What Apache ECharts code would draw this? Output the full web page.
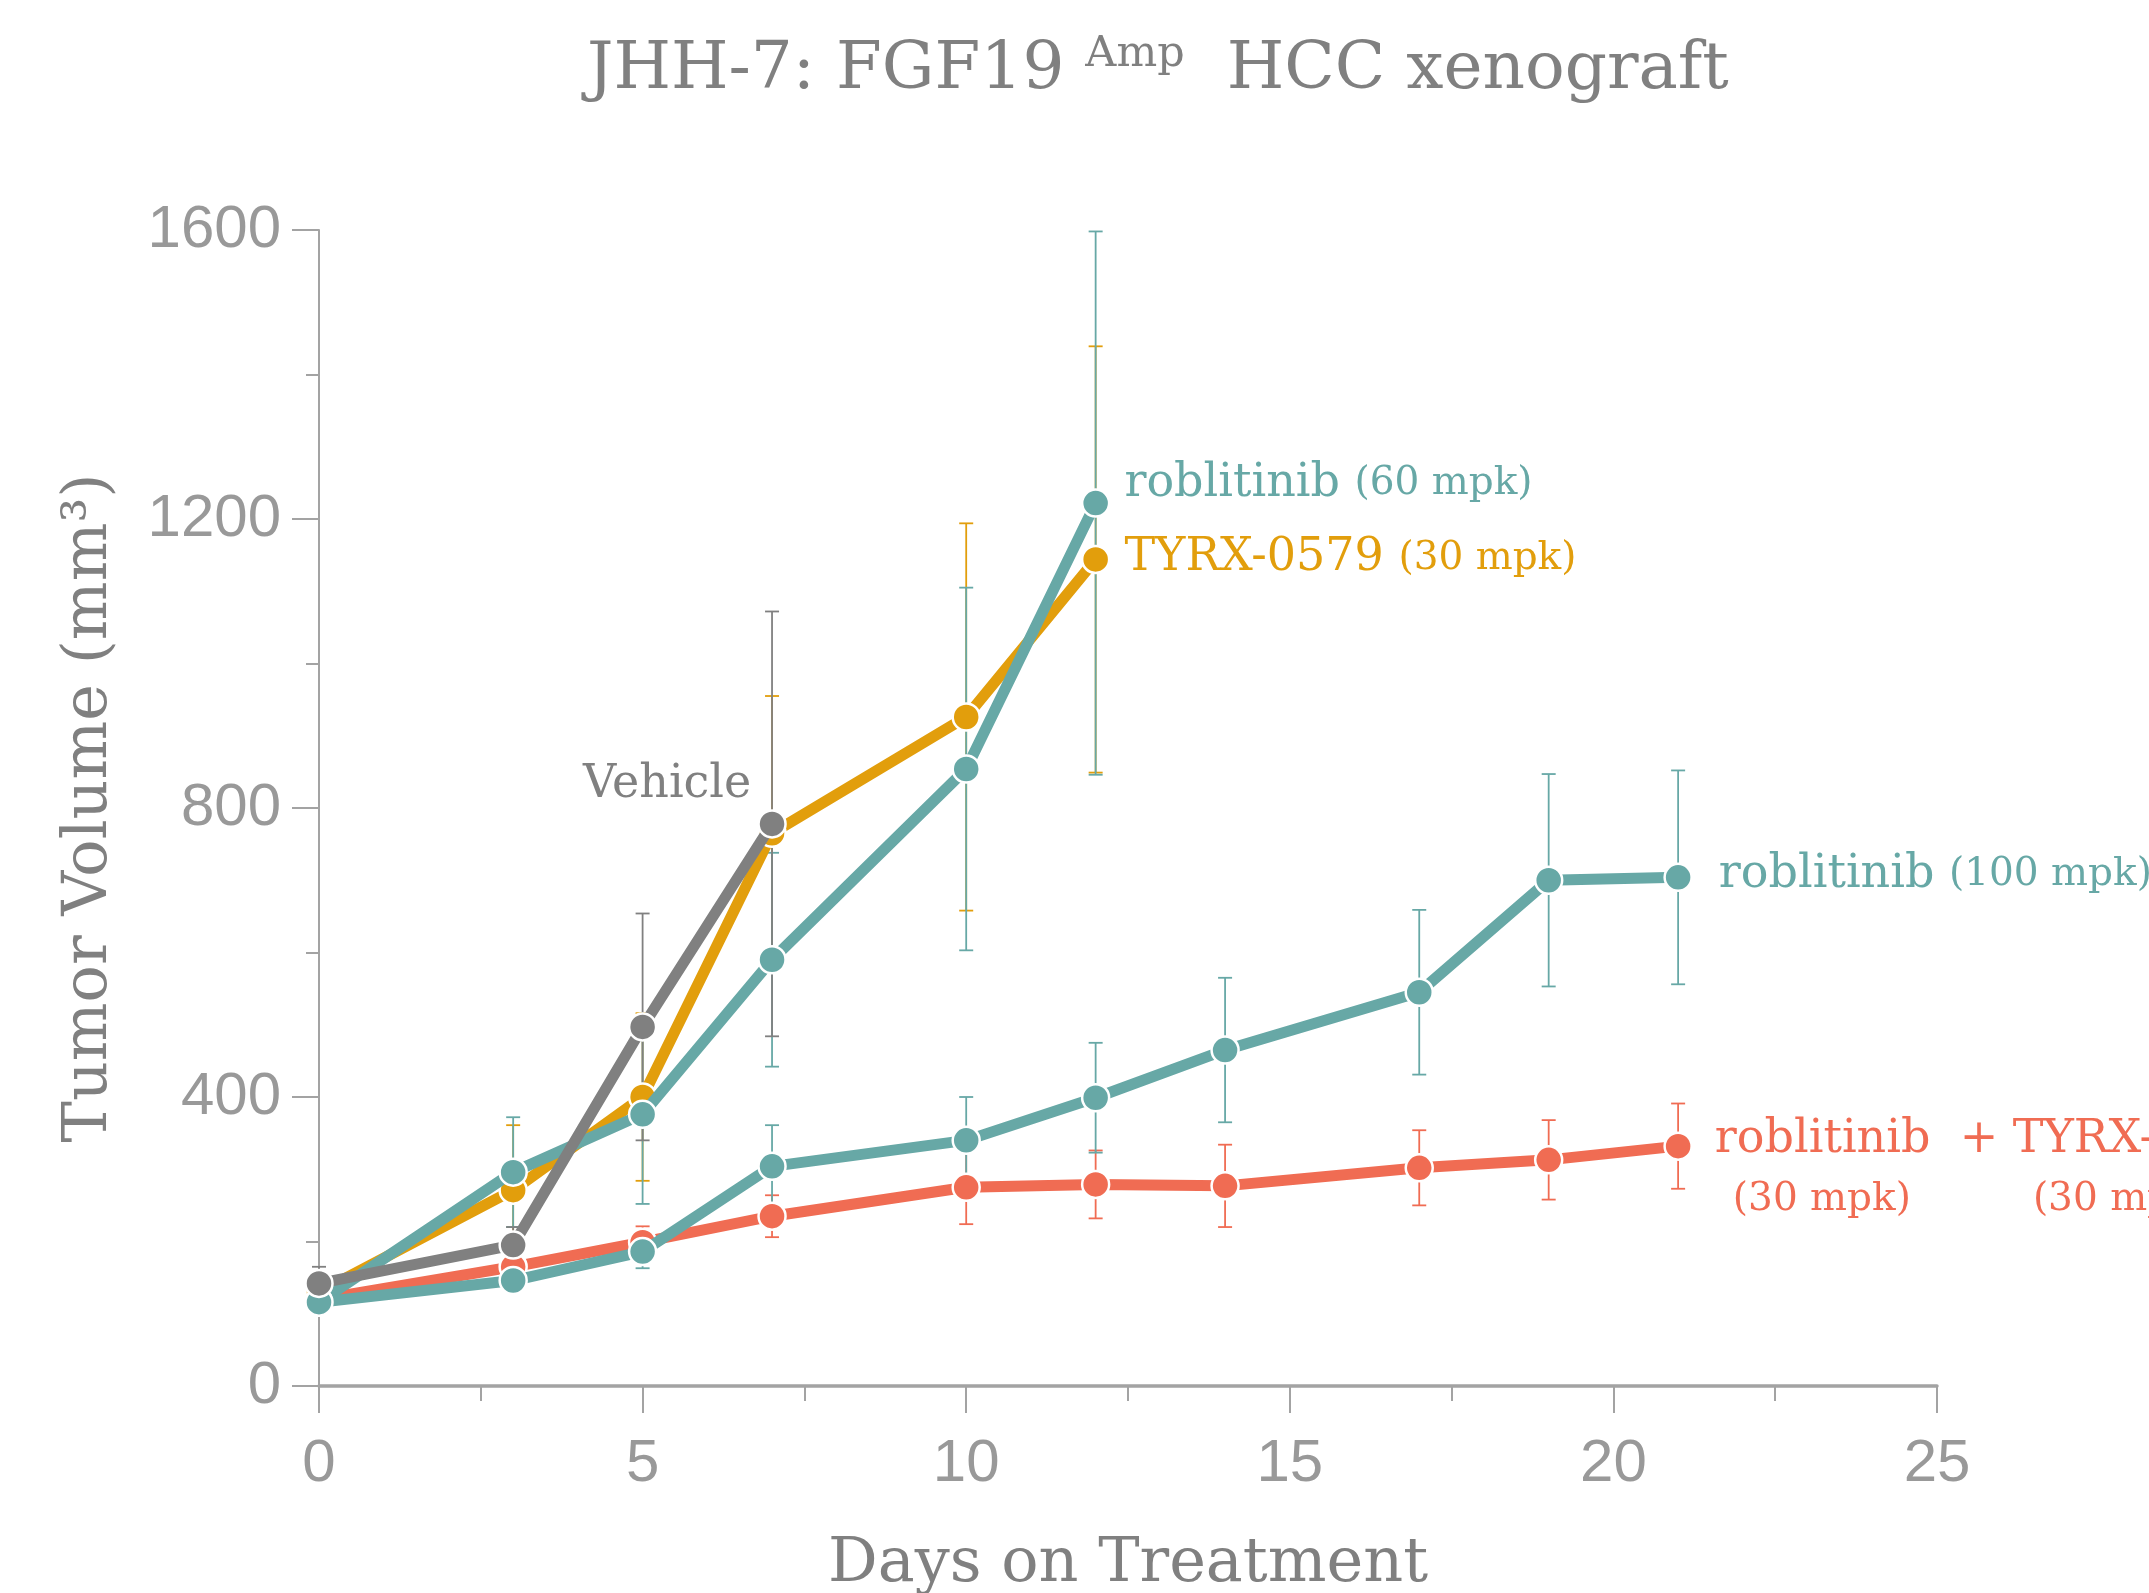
<!DOCTYPE html>
<html>
<head>
<meta charset="utf-8">
<script src="https://cdn.jsdelivr.net/npm/echarts@6/dist/echarts.min.js"></script>
<style>
html, body { margin: 0; padding: 0; background: #fff; }
#chart { width: 2149px; height: 1593px; }
</style>
</head>
<body>
<div id="chart"></div>
<script>
// days on treatment for each group
var vehicleDays = [0, 3, 5, 7];
var tyrxDays = [0, 3, 5, 7, 10, 12];
var rob60Days = [0, 3, 5, 7, 10, 12];
var longDays = [0, 3, 5, 7, 10, 12, 14, 17, 19, 21];

// tumor volume (mm3), mean and error bar half-length
var vehicleVol = [142, 195, 497, 778];
var vehicleErr = [23, 25, 157, 294];
var tyrxVol = [130, 271, 400, 765, 926, 1144];
var tyrxErr = [10, 90, 116, 190, 268, 295];
var rob60Vol = [116, 296, 376, 590, 854, 1222];
var rob60Err = [10, 76, 124, 148, 251, 376];
var rob100Vol = [116, 146, 186, 304, 340, 399, 465, 545, 700, 704];
var rob100Err = [8, 15, 23, 57, 60, 76, 100, 114, 147, 148];
var comboVol = [120, 165, 199, 235, 275, 279, 277, 302, 313, 332];
var comboErr = [8, 15, 22, 29, 51, 47, 57, 52, 55, 59];

var xTicks = [0, 5, 10, 15, 20, 25];
var yTicks = [0, 400, 800, 1200, 1600];

var GRAY = '#808080', ORANGE = '#e29e0c', TEAL = '#67a8a6', RED = '#f06c53';
var SERIF = 'DejaVu Serif';
var SANS = 'Liberation Sans';

function labelRich(color) {
    return {
        big: { fontFamily: SERIF, fontSize: 46, color: color },
        sm: { fontFamily: SERIF, fontSize: 39, color: color }
    };
}

function lineSeries(name, days, vol, color, z, label) {
    return {
        name: name,
        type: 'line',
        z: z,
        symbol: 'circle',
        symbolSize: 27,
        lineStyle: { width: 11, color: color },
        itemStyle: { color: color, borderColor: '#fff', borderWidth: 2.5 },
        emphasis: { disabled: true },
        data: days.map(function (d, i) {
            var item = { value: [d, vol[i]] };
            if (label && i === days.length - 1) item.label = label;
            return item;
        })
    };
}

function errSeries(days, vol, err, color) {
    return {
        type: 'custom',
        z: 1,
        silent: true,
        data: days.map(function (d, i) { return [d, vol[i], err[i]]; }),
        renderItem: function (params, api) {
            var x = api.value(0), y = api.value(1), e = api.value(2);
            var hi = api.coord([x, y + e]);
            var lo = api.coord([x, y - e]);
            var w = 7;
            var st = { stroke: color, lineWidth: 1.8 };
            return {
                type: 'group',
                children: [
                    { type: 'line', shape: { x1: hi[0], y1: hi[1], x2: lo[0], y2: lo[1] }, style: st },
                    { type: 'line', shape: { x1: hi[0] - w, y1: hi[1], x2: hi[0] + w, y2: hi[1] }, style: st },
                    { type: 'line', shape: { x1: lo[0] - w, y1: lo[1], x2: lo[0] + w, y2: lo[1] }, style: st }
                ]
            };
        }
    };
}

var axisGray = '#a3a3a3';

var option = {
    animation: false,
    backgroundColor: '#fff',
    title: {
        left: 582,
        top: 28,
        text: '{a|JHH-7: FGF19 }{s|Amp}{a|  HCC xenograft}',
        textStyle: {
            fontWeight: 'normal',
            rich: {
                a: { fontFamily: SERIF, fontSize: 66, fontWeight: 'normal', color: GRAY, lineHeight: 76 },
                s: { fontFamily: SERIF, fontSize: 43, fontWeight: 'normal', color: GRAY, lineHeight: 43, verticalAlign: 'top' }
            }
        }
    },
    grid: { left: 319, right: 212, top: 230, bottom: 207, outerBoundsMode: 'none', containLabel: false },
    xAxis: {
        type: 'value',
        min: 0,
        max: 25,
        interval: 5,
        name: 'Days on Treatment',
        nameLocation: 'middle',
        nameGap: 148,
        nameTextStyle: { fontFamily: SERIF, fontSize: 62, color: GRAY },
        axisLine: { show: true, lineStyle: { color: axisGray, width: 3.5 } },
        axisTick: { show: true, length: 27, lineStyle: { color: axisGray, width: 2 } },
        minorTick: { show: true, splitNumber: 2, length: 15, lineStyle: { color: axisGray, width: 2 } },
        splitLine: { show: false },
        axisLabel: {
            margin: 48,
            fontFamily: SANS,
            fontSize: 60,
            color: '#999',
            formatter: function (v) { return xTicks.indexOf(v) >= 0 ? String(v) : ''; }
        }
    },
    yAxis: {
        type: 'value',
        min: 0,
        max: 1600,
        interval: 400,
        name: 'Tumor Volume (mm³)',
        nameLocation: 'middle',
        nameGap: 198,
        nameTextStyle: { fontFamily: SERIF, fontSize: 62, color: GRAY },
        axisLine: { show: true, lineStyle: { color: axisGray, width: 2 } },
        axisTick: { show: true, length: 27, lineStyle: { color: axisGray, width: 2 } },
        minorTick: { show: true, splitNumber: 2, length: 13, lineStyle: { color: axisGray, width: 2 } },
        splitLine: { show: false },
        axisLabel: {
            margin: 38,
            fontFamily: SANS,
            fontSize: 60,
            color: '#999',
            formatter: function (v) { return yTicks.indexOf(v) >= 0 ? String(v) : ''; }
        }
    },
    series: [
        errSeries(longDays, comboVol, comboErr, RED),
        errSeries(tyrxDays, tyrxVol, tyrxErr, ORANGE),
        errSeries(rob60Days, rob60Vol, rob60Err, TEAL),
        errSeries(longDays, rob100Vol, rob100Err, TEAL),
        errSeries(vehicleDays, vehicleVol, vehicleErr, GRAY),

        lineSeries('roblitinib + TYRX-0579', longDays, comboVol, RED, 3, {
            show: true, position: 'right', distance: 22, offset: [0, 24], align: 'left',
            formatter: '{big|roblitinib  + TYRX-0579}\n{gap1|}{sm|(30 mpk)}{gap2|}{sm|(30 mpk)}',
            rich: {
                gap1: { width: 18 },
                gap2: { width: 122 },
                big: { fontFamily: SERIF, fontSize: 46, color: RED, lineHeight: 60 },
                sm: { fontFamily: SERIF, fontSize: 39, color: RED, lineHeight: 60 }
            }
        }),
        lineSeries('TYRX-0579 (30 mpk)', tyrxDays, tyrxVol, ORANGE, 4, {
            show: true, position: 'right', distance: 14, offset: [0, -1],
            formatter: '{big|TYRX-0579 }{sm|(30 mpk)}', rich: labelRich(ORANGE)
        }),
        lineSeries('roblitinib (60 mpk)', rob60Days, rob60Vol, TEAL, 5, {
            show: true, position: 'right', distance: 14, offset: [0, -19],
            formatter: '{big|roblitinib }{sm|(60 mpk)}', rich: labelRich(TEAL)
        }),
        lineSeries('roblitinib (100 mpk)', longDays, rob100Vol, TEAL, 6, {
            show: true, position: 'right', distance: 26, offset: [0, -2],
            formatter: '{big|roblitinib }{sm|(100 mpk)}', rich: labelRich(TEAL)
        }),
        lineSeries('Vehicle', vehicleDays, vehicleVol, GRAY, 7, {
            show: true, position: 'left', distance: 6, offset: [0, -39],
            formatter: '{big|Vehicle}', rich: { big: { fontFamily: SERIF, fontSize: 46, color: GRAY } }
        })
    ]
};

var myChart = echarts.init(document.getElementById('chart'), null, { renderer: 'canvas' });
myChart.setOption(option);
</script>
</body>
</html>
